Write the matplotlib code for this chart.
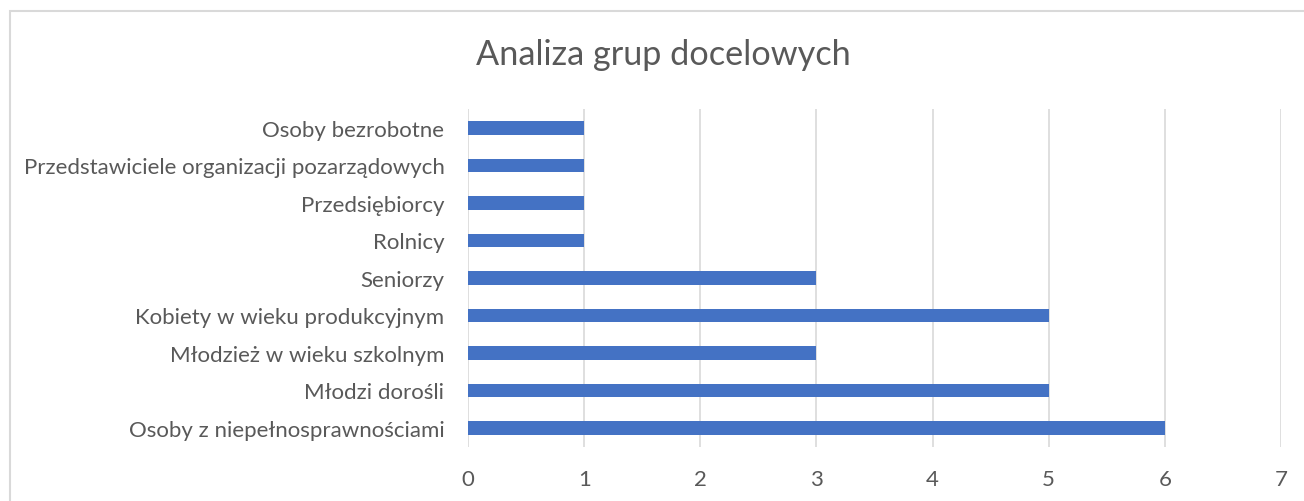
import matplotlib
matplotlib.use("Agg")
import matplotlib.pyplot as plt
from matplotlib.patches import Rectangle

categories = [
    "Osoby z niepełnosprawnościami",
    "Młodzi dorośli",
    "Młodzież w wieku szkolnym",
    "Kobiety w wieku produkcyjnym",
    "Seniorzy",
    "Rolnicy",
    "Przedsiębiorcy",
    "Przedstawiciele organizacji pozarządowych",
    "Osoby bezrobotne",
]
values = [6, 5, 3, 5, 3, 1, 1, 1, 1]
xticks = [0, 1, 2, 3, 4, 5, 6, 7]
title = "Analiza grup docelowych"

plt.rcParams['font.family'] = ['Lato', 'DejaVu Sans']
text_color = "#595959"

fig = plt.figure(figsize=(13.04, 5.02), dpi=100)
fig.patches.append(Rectangle((9.5/1304, -0.05), 1.05, 1.05-11.5/502,
                             transform=fig.transFigure, fill=False,
                             edgecolor="#d9d9d9", linewidth=1.5))
ax = fig.add_axes([468/1304, 1-447.75/502, (1281-468)/1304, (447.75-110.25)/502])
y = list(range(len(categories)))
ax.barh(y, values, height=0.36, color="#4472C4", zorder=3)
ax.set_xlim(0, 7)
ax.set_ylim(-0.5, len(categories) - 0.5)
ax.set_xticks(xticks)
ax.set_xticklabels([str(t) for t in xticks])
ax.set_yticks(y)
ax.set_yticklabels(categories)
for s in ax.spines.values():
    s.set_visible(False)
ax.grid(axis='x', color="#d9d9d9", linewidth=1.2, zorder=0)
ax.tick_params(axis='both', length=0, labelsize=16, colors=text_color)
ax.tick_params(axis='y', pad=17)
ax.tick_params(axis='x', pad=16)
fig.text(663/1304, 1-55/502, title, ha='center', va='center', fontsize=24.7, color=text_color)
fig.savefig("out.png", dpi=100)
